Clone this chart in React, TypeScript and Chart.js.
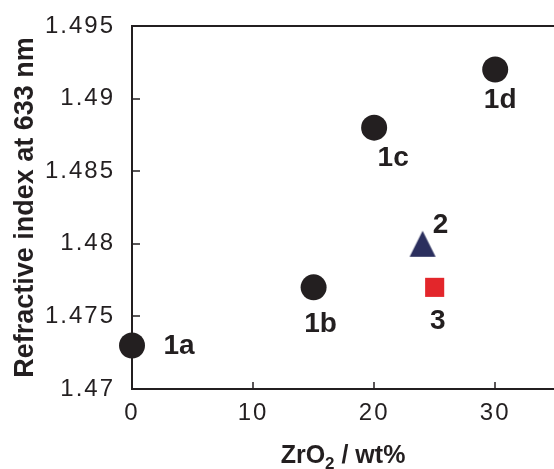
import React, { useEffect, useRef } from 'react';
import { Chart, registerables } from 'chart.js';

Chart.register(...registerables);

// ---- data ----
const circleX = [0, 15, 20, 30];
const circleY = [1.473, 1.477, 1.488, 1.492];
const circleLabels = ['1a', '1b', '1c', '1d'];

const triangleX = [24];
const triangleY = [1.48];
const triangleLabels = ['2'];

const squareX = [25];
const squareY = [1.477];
const squareLabels = ['3'];

const xTicks = [0, 10, 20, 30];
const yTicks = [1.47, 1.475, 1.48, 1.485, 1.49, 1.495];

const xTitleMain = 'ZrO';
const xTitleSub = '2';
const xTitleTail = ' / wt%';
const yTitle = 'Refractive index at 633 nm';

// ---- styles ----
const FONT = '"Liberation Sans", Arial, Helvetica, sans-serif';
const INK = '#231f20';
const NAVY = '#2b2f5e';
const RED = '#e3262b';

// label centre offsets (px) relative to the marker
const labelOffsets: Record<string, [number, number]> = {
  '1a': [47, 1],
  '1b': [7, 37],
  '1c': [19, 31],
  '1d': [5, 31],
  '2': [18, -19],
  '3': [3, 34],
};

function makeTriangle(): HTMLCanvasElement {
  const c = document.createElement('canvas');
  c.width = 28;
  c.height = 28;
  const g = c.getContext('2d')!;
  g.fillStyle = NAVY;
  g.beginPath();
  g.moveTo(14, 1);
  g.lineTo(27, 27);
  g.lineTo(1, 27);
  g.closePath();
  g.fill();
  return c;
}

const framePlugin = {
  id: 'frame',
  beforeDraw(chart: any) {
    (chart.ctx as any).letterSpacing = '2px';
  },
  beforeDatasetsDraw(chart: any) {
    const { ctx, chartArea } = chart;
    const { left, top, bottom } = chartArea;
    const right = chart.width;
    const xs = chart.scales.x;
    const ys = chart.scales.y;
    ctx.save();
    ctx.strokeStyle = INK;
    ctx.lineWidth = 2;
    ctx.beginPath();
    ctx.moveTo(right, top);
    ctx.lineTo(left, top);
    ctx.lineTo(left, bottom);
    ctx.lineTo(right, bottom);
    ctx.stroke();
    ctx.lineWidth = 1.5;
    ctx.beginPath();
    yTicks.forEach((v) => {
      const y = Math.round(ys.getPixelForValue(v));
      ctx.moveTo(left, y);
      ctx.lineTo(left + 8, y);
    });
    xTicks.forEach((v) => {
      const x = Math.round(xs.getPixelForValue(v));
      ctx.moveTo(x, bottom);
      ctx.lineTo(x, bottom - 7);
    });
    ctx.stroke();
    ctx.restore();
  },
  afterDatasetsDraw(chart: any) {
    const { ctx, chartArea } = chart;
    const { left, bottom, top } = chartArea;
    const right = chart.width;
    ctx.save();
    (ctx as any).letterSpacing = '0px';
    ctx.fillStyle = INK;
    // point labels
    ctx.font = `bold 28px ${FONT}`;
    ctx.textAlign = 'center';
    ctx.textBaseline = 'middle';
    chart.data.datasets.forEach((ds: any, di: number) => {
      const meta = chart.getDatasetMeta(di);
      meta.data.forEach((pt: any, i: number) => {
        const lab = ds.pointLabels[i];
        const off = labelOffsets[lab] || [0, 0];
        ctx.fillText(lab, pt.x + off[0], pt.y + off[1]);
      });
    });
    // x title with subscript
    const bigFont = `bold 25px ${FONT}`;
    const subFont = `bold 17px ${FONT}`;
    ctx.textBaseline = 'alphabetic';
    ctx.textAlign = 'left';
    ctx.font = bigFont;
    const w1 = ctx.measureText(xTitleMain).width;
    const w3 = ctx.measureText(xTitleTail).width;
    ctx.font = subFont;
    const w2 = ctx.measureText(xTitleSub).width;
    const total = w1 + w2 + w3;
    const cx = (left + right) / 2;
    let x0 = cx - total / 2;
    const base = 463;
    ctx.font = bigFont;
    ctx.fillText(xTitleMain, x0, base);
    x0 += w1;
    ctx.font = subFont;
    ctx.fillText(xTitleSub, x0, base + 6);
    x0 += w2;
    ctx.font = bigFont;
    ctx.fillText(xTitleTail, x0, base);
    // y title
    ctx.save();
    ctx.translate(33, (top + bottom) / 2);
    ctx.rotate(-Math.PI / 2);
    ctx.textAlign = 'center';
    ctx.font = `bold 27px ${FONT}`;
    ctx.fillText(yTitle, 0, 0);
    ctx.restore();
    ctx.restore();
  },
};

export default function App() {
  const ref = useRef<HTMLCanvasElement | null>(null);
  useEffect(() => {
    const canvas = ref.current!;
    const tri = makeTriangle();
    const chart = new Chart(canvas, {
      type: 'scatter',
      data: {
        datasets: [
          {
            label: '1',
            data: circleX.map((x, i) => ({ x, y: circleY[i] })),
            pointLabels: circleLabels,
            pointStyle: 'circle',
            pointRadius: 13,
            pointBorderWidth: 0,
            backgroundColor: INK,
            borderColor: INK,
            clip: false,
          } as any,
          {
            label: '2',
            data: triangleX.map((x, i) => ({ x, y: triangleY[i] })),
            pointLabels: triangleLabels,
            pointStyle: tri,
            pointRadius: 14,
            pointBorderWidth: 0,
            backgroundColor: NAVY,
            borderColor: NAVY,
            clip: false,
          } as any,
          {
            label: '3',
            data: squareX.map((x, i) => ({ x, y: squareY[i] })),
            pointLabels: squareLabels,
            pointStyle: 'rect',
            pointRadius: 13.5,
            pointBorderWidth: 0,
            backgroundColor: RED,
            borderColor: RED,
            clip: false,
          } as any,
        ],
      },
      options: {
        responsive: false,
        animation: false,
        layout: { padding: { top: 26, right: 0, left: 0, bottom: 0 } },
        plugins: { legend: { display: false }, tooltip: { enabled: false } },
        scales: {
          x: {
            type: 'linear',
            min: 0,
            max: 33.7,
            grid: { display: false, drawTicks: false },
            border: { display: false },
            afterBuildTicks: (s: any) => {
              s.ticks = xTicks.map((value) => ({ value }));
            },
            afterFit: (s: any) => {
              s.height = 80;
              s.paddingLeft = 0;
              s.paddingRight = 0;
              s.paddingTop = 0;
              s.paddingBottom = 0;
            },
            ticks: {
              padding: 10,
              maxRotation: 0,
              autoSkip: false,
              color: INK,
              font: { family: FONT, size: 24 },
              callback: (v: any) => String(v),
            },
          },
          y: {
            type: 'linear',
            min: 1.47,
            max: 1.495,
            grid: { display: false, drawTicks: false },
            border: { display: false },
            afterBuildTicks: (s: any) => {
              s.ticks = yTicks.map((value) => ({ value }));
            },
            afterFit: (s: any) => {
              s.width = 132;
              s.paddingLeft = 0;
              s.paddingRight = 0;
              s.paddingTop = 0;
              s.paddingBottom = 0;
            },
            ticks: {
              padding: 17,
              autoSkip: false,
              color: INK,
              font: { family: FONT, size: 24 },
              callback: (v: any) => String(v),
            },
          },
        },
      },
      plugins: [framePlugin],
    });
    return () => chart.destroy();
  }, []);
  return (
    <div style={{ position: 'fixed', left: 0, top: 0, width: 554, height: 469, background: '#fff' }}>
      <canvas ref={ref} width={554} height={469} style={{ display: 'block' }} />
    </div>
  );
}
